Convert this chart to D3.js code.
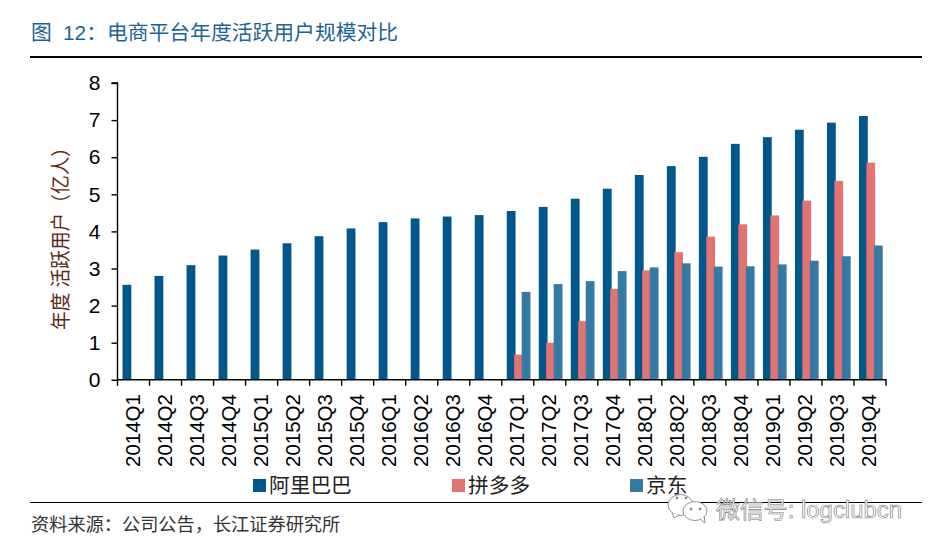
<!DOCTYPE html>
<html><head><meta charset="utf-8">
<script src="https://cdn.jsdelivr.net/npm/d3@7"></script>
<style>html,body{margin:0;padding:0;background:#fff}svg{display:block}</style>
</head><body><svg id="c" width="932" height="552"></svg>
<script>
const quarters=["2014Q1","2014Q2","2014Q3","2014Q4","2015Q1","2015Q2","2015Q3","2015Q4","2016Q1","2016Q2","2016Q3","2016Q4","2017Q1","2017Q2","2017Q3","2017Q4","2018Q1","2018Q2","2018Q3","2018Q4","2019Q1","2019Q2","2019Q3","2019Q4"];
const alibaba=[2.56,2.80,3.09,3.35,3.51,3.68,3.87,4.08,4.25,4.35,4.40,4.44,4.55,4.66,4.88,5.15,5.52,5.76,6.01,6.36,6.54,6.74,6.93,7.11];
const pdd=[null,null,null,null,null,null,null,null,null,null,null,null,0.68,1.0,1.58,2.45,2.95,3.44,3.86,4.19,4.43,4.83,5.36,5.85];
const jd=[null,null,null,null,null,null,null,null,null,null,null,null,2.37,2.58,2.66,2.93,3.03,3.14,3.05,3.06,3.11,3.21,3.33,3.62];
const seriesNames=["阿里巴巴","拼多多","京东"];
const seriesColors=["#00578a","#e37272","#3679a3"];
const yTicks=[0,1,2,3,4,5,6,7,8];
const titleHead="图";
const titleBody="12：电商平台年度活跃用户规模对比";
const yLabel="年度 活跃用户（亿人）";
const source="资料来源：公司公告，长江证券研究所";
const watermark="微信号: logclubcn";
const font="'Liberation Sans','Noto Sans CJK SC',sans-serif";
const svg=d3.select("#c").style("font-family",font);
const x=d3.scaleBand().domain(quarters).range([117.5,886]);
const y=d3.scaleLinear().domain([0,8]).range([379.8,83]);
const bw=8.8;
const titleColor="#1a6496";
svg.append("text").attr("x",31).attr("y",40).attr("fill",titleColor).attr("font-size",20.8).text(titleHead);
svg.append("text").attr("x",63).attr("y",40).attr("fill",titleColor).attr("font-size",20.8).text(titleBody);
svg.append("rect").attr("x",30).attr("y",56).attr("width",892).attr("height",2).attr("fill","#000");
[alibaba,pdd,jd].forEach((s,i)=>{
  svg.append("g").selectAll("rect").data(s.map((v,j)=>({v,q:quarters[j]})).filter(d=>d.v!=null)).join("rect")
   .attr("x",d=>x(d.q)+x.bandwidth()/2+(i==0?-11:i==1?-3.6:3.9))
   .attr("y",d=>y(d.v)).attr("width",bw).attr("height",d=>y(0)-y(d.v)).attr("fill",seriesColors[i]);
});
const ax=svg.append("g").attr("transform","translate(117.5,0)").call(d3.axisLeft(y).tickValues(yTicks).tickSize(6).tickPadding(11).tickFormat(d3.format("d")));
ax.selectAll("text").attr("font-size",21).attr("fill","#000").attr("font-family",font);
ax.selectAll("line,path").attr("stroke","#000").attr("stroke-width",1.4);
ax.select("path").attr("d","M-6,83H0V380");
const bx=svg.append("g").attr("transform","translate(0,379.8)").call(d3.axisBottom(x).tickSize(0).tickFormat(""));
bx.select("path").attr("stroke","#000").attr("stroke-width",1.4).attr("d","M117.5,0H886V6");
bx.selectAll(".tick line").remove();
bx.selectAll("line.t").data(quarters).join("line").attr("class","t").attr("x1",d=>x(d)).attr("x2",d=>x(d)).attr("y1",0).attr("y2",6).attr("stroke","#000").attr("stroke-width",1.4);
svg.append("g").selectAll("text").data(quarters).join("text")
 .attr("transform",d=>`translate(${x(d)+x.bandwidth()/2+6},467) rotate(-90)`)
 .attr("font-size",20.5).attr("fill","#000").text(d=>d);
svg.append("text").attr("transform","translate(67.5,330) rotate(-90)").attr("font-size",20).attr("fill","#5a2a18")
 .attr("textLength",192).attr("lengthAdjust","spacingAndGlyphs").text(yLabel);
const lx=[253,452,630];
seriesNames.forEach((n,i)=>{
  svg.append("rect").attr("x",lx[i]).attr("y",479).attr("width",13).attr("height",13).attr("fill",seriesColors[i]);
  svg.append("text").attr("x",lx[i]+16).attr("y",493).attr("font-size",20.7).attr("fill","#222").text(n);
});
svg.append("rect").attr("x",30).attr("y",502).attr("width",892).attr("height",1).attr("fill","#000");
svg.append("text").attr("x",31).attr("y",531).attr("font-size",18.2).attr("fill","#333").text(source);
const wm=svg.append("g").attr("fill","#fff").attr("stroke","#777").attr("stroke-width",.8);
wm.append("ellipse").attr("cx",680.5).attr("cy",505).attr("rx",12.5).attr("ry",10.5);
wm.append("path").attr("d","M672,513L674,518L679,515");
wm.append("ellipse").attr("cx",695).attr("cy",511).attr("rx",12).attr("ry",9.5);
wm.append("path").attr("d","M700,519L705,523L704,516");
[[677,498],[686,498],[691,509],[700,509]].forEach(p=>wm.append("circle").attr("cx",p[0]).attr("cy",p[1]).attr("r",1).attr("fill","#777"));
svg.append("text").attr("x",716).attr("y",518).attr("font-size",23).attr("fill","#fff").attr("stroke","#777").attr("stroke-width",.6)
 .attr("textLength",186).attr("lengthAdjust","spacingAndGlyphs").text(watermark);
</script></body></html>
